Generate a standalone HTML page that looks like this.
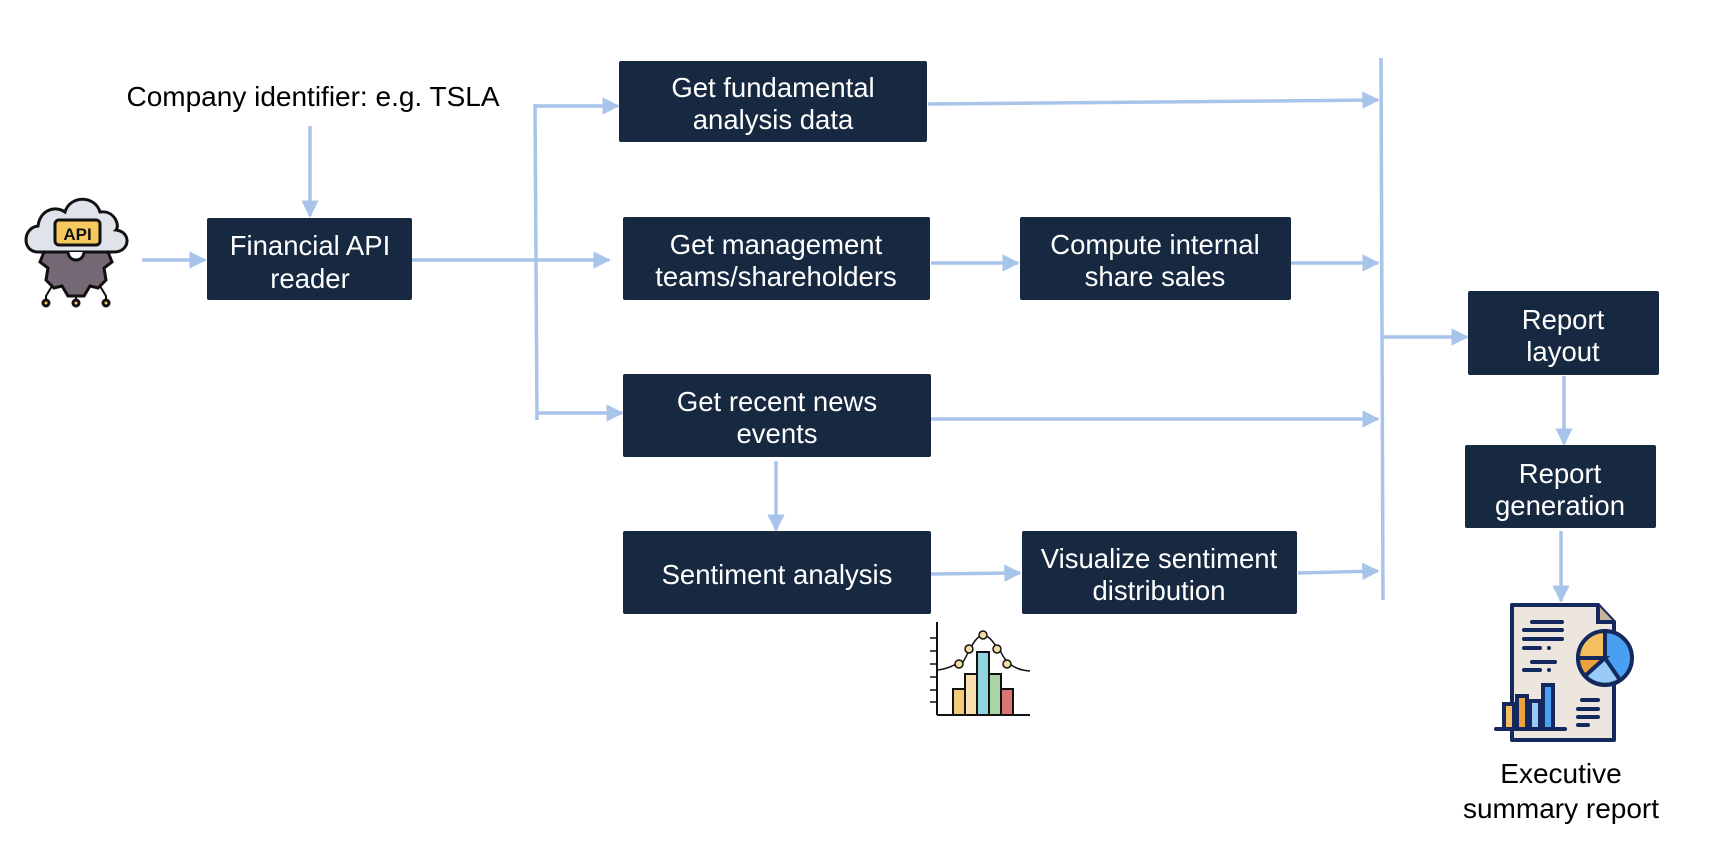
<!DOCTYPE html>
<html><head><meta charset="utf-8"><style>
html,body{margin:0;padding:0;background:#fff;}
svg{display:block;}
text{font-family:"Liberation Sans",Arial,sans-serif;}
</style></head><body>
<svg width="1712" height="842" viewBox="0 0 1712 842" xmlns="http://www.w3.org/2000/svg">
<defs>
<marker id="a" viewBox="0 0 10 10" refX="9" refY="5" markerWidth="5" markerHeight="5" orient="auto" markerUnits="strokeWidth"><path d="M0,0 L10,5 L0,10 z" fill="#a9c4ea"/></marker>
</defs>
<g stroke="#a9c4ea" stroke-width="3.5" fill="none">
<line x1="310" y1="126" x2="310" y2="216" marker-end="url(#a)"/>
<line x1="142" y1="260" x2="205" y2="260" marker-end="url(#a)"/>
<line x1="412" y1="260" x2="609" y2="260" marker-end="url(#a)"/>
<line x1="535" y1="104" x2="537" y2="420"/>
<line x1="535" y1="106" x2="618" y2="106" marker-end="url(#a)"/>
<line x1="537" y1="413" x2="622" y2="413" marker-end="url(#a)"/>
<line x1="928" y1="104" x2="1378" y2="100" marker-end="url(#a)"/>
<line x1="931" y1="263" x2="1018" y2="263" marker-end="url(#a)"/>
<line x1="1291" y1="263" x2="1378" y2="263" marker-end="url(#a)"/>
<line x1="931" y1="419" x2="1378" y2="419" marker-end="url(#a)"/>
<line x1="776" y1="461" x2="776" y2="530" marker-end="url(#a)"/>
<line x1="931" y1="574" x2="1020" y2="573" marker-end="url(#a)"/>
<line x1="1298" y1="573" x2="1378" y2="571" marker-end="url(#a)"/>
<line x1="1381" y1="58" x2="1383" y2="600"/>
<line x1="1383" y1="337" x2="1467" y2="337" marker-end="url(#a)"/>
<line x1="1564" y1="376" x2="1564" y2="444" marker-end="url(#a)"/>
<line x1="1561" y1="531" x2="1561" y2="601" marker-end="url(#a)"/>
</g>
<g fill="#172841">
<rect x="207" y="218" width="205" height="82" rx="2"/>
<rect x="619" y="61" width="308" height="81" rx="2"/>
<rect x="623" y="217" width="307" height="83" rx="2"/>
<rect x="1020" y="217" width="271" height="83" rx="2"/>
<rect x="623" y="374" width="308" height="83" rx="2"/>
<rect x="623" y="531" width="308" height="83" rx="2"/>
<rect x="1022" y="531" width="275" height="83" rx="2"/>
<rect x="1468" y="291" width="191" height="84" rx="2"/>
<rect x="1465" y="445" width="191" height="83" rx="2"/>
</g>
<g fill="#fff" font-size="27.5" text-anchor="middle">
<text x="310" y="255">Financial API</text><text x="310" y="288">reader</text>
<text x="773" y="97">Get fundamental</text><text x="773" y="129">analysis data</text>
<text x="776" y="254">Get management</text><text x="776" y="286">teams/shareholders</text>
<text x="1155" y="254">Compute internal</text><text x="1155" y="286">share sales</text>
<text x="777" y="411">Get recent news</text><text x="777" y="443">events</text>
<text x="777" y="584">Sentiment analysis</text>
<text x="1159" y="568">Visualize sentiment</text><text x="1159" y="600">distribution</text>
<text x="1563" y="329">Report</text><text x="1563" y="361">layout</text>
<text x="1560" y="483">Report</text><text x="1560" y="515">generation</text>
</g>
<g fill="#000" font-size="28" text-anchor="middle">
<text x="313" y="106">Company identifier: e.g. TSLA</text>
<text x="1561" y="783">Executive</text><text x="1561" y="818">summary report</text>
</g>
<!-- API icon -->
<g stroke="#111" stroke-width="3">
<path d="M48,268 L40,262 L44,252 L108,252 L112,262 L104,268 L106,280 L98,288 L90,286 L84,296 L68,296 L62,286 L54,288 L46,280 Z" fill="#736873"/>
<path d="M38,252 C22,252 22,228 38,226 C40,210 55,205 65,212 C70,195 95,195 100,212 C115,210 120,226 116,230 C132,232 130,252 114,252 Z" fill="#dfe4ea"/>
<rect x="55" y="220" width="45" height="25" rx="4" fill="#f5c95d"/>
<path d="M68,252 a8,8 0 0 0 16,0" fill="#fff"/>
<path d="M52,286 L46,296 L46,302 M76,296 L76,302 M100,286 L106,296 L106,302" fill="none" stroke-width="2"/>
<circle cx="46" cy="303" r="3" fill="#f5c95d"/><circle cx="76" cy="303" r="3" fill="#f5c95d"/><circle cx="106" cy="303" r="3" fill="#f5c95d"/>
</g>
<text x="77.5" y="240" font-size="17" font-weight="bold" text-anchor="middle" fill="#111">API</text>
<!-- chart icon -->
<g stroke="#111" stroke-width="2">
<line x1="937" y1="622" x2="937" y2="715"/><line x1="937" y1="715" x2="1030" y2="715"/>
<g stroke-width="1.5"><line x1="930" y1="638" x2="937" y2="638"/><line x1="930" y1="651" x2="937" y2="651"/><line x1="930" y1="664" x2="937" y2="664"/><line x1="930" y1="677" x2="937" y2="677"/><line x1="930" y1="690" x2="937" y2="690"/><line x1="930" y1="702" x2="937" y2="702"/></g>
<rect x="953" y="689" width="12" height="26" fill="#f5c97a"/>
<rect x="965" y="674" width="12" height="41" fill="#f8dfb0"/>
<rect x="977" y="652" width="12" height="63" fill="#8fd4de"/>
<rect x="989" y="674" width="12" height="41" fill="#aad4a5"/>
<rect x="1001" y="689" width="12" height="26" fill="#dc7474"/>
<path d="M938,670 C955,668 958,660 962,664 C970,650 975,636 983,635 C992,636 997,650 1000,650 C1004,660 1012,670 1030,671" fill="none" stroke-width="1.5"/>
<g fill="#f5dca0" stroke-width="1.5"><circle cx="959" cy="664" r="4"/><circle cx="969" cy="649" r="4"/><circle cx="983" cy="635" r="4"/><circle cx="997" cy="649" r="4"/><circle cx="1007" cy="664" r="4"/></g>
</g>
<!-- report icon -->
<g stroke="#14295e" stroke-width="4" stroke-linecap="round">
<path d="M1512,605 L1598,605 L1614,622 L1614,740 L1512,740 Z" fill="#ece6de" stroke-linejoin="round"/>
<path d="M1598,605 L1598,622 L1614,622" fill="#c8b49a"/>
<line x1="1532" y1="622" x2="1562" y2="622"/><line x1="1524" y1="630" x2="1562" y2="630"/><line x1="1524" y1="639" x2="1562" y2="639"/><line x1="1524" y1="648" x2="1540" y2="648"/><line x1="1549" y1="648" x2="1549" y2="648"/>
<line x1="1532" y1="662" x2="1555" y2="662"/><line x1="1524" y1="670" x2="1540" y2="670"/><line x1="1549" y1="670" x2="1549" y2="670"/>
<circle cx="1605" cy="658" r="27" fill="#4aa0f0"/>
<path d="M1605,658 L1605,631 A27,27 0 0 0 1578,658 Z" fill="#f5be5e"/>
<path d="M1605,658 L1578,658 A27,27 0 0 0 1585,676 Z" fill="#eea23e"/>
<path d="M1605,658 L1585,676 A27,27 0 0 0 1620,680 Z" fill="#99cbf7"/>
<rect x="1504" y="704" width="10" height="25" fill="#f5be5e"/>
<rect x="1517" y="696" width="10" height="33" fill="#eea23e"/>
<rect x="1530" y="701" width="10" height="28" fill="#99cbf7"/>
<rect x="1543" y="685" width="10" height="44" fill="#4aa0f0"/>
<line x1="1496" y1="729" x2="1565" y2="729"/>
<line x1="1582" y1="700" x2="1598" y2="700"/><line x1="1578" y1="709" x2="1598" y2="709"/><line x1="1578" y1="717" x2="1598" y2="717"/><line x1="1578" y1="725" x2="1588" y2="725"/>
</g>
</svg>
</body></html>
